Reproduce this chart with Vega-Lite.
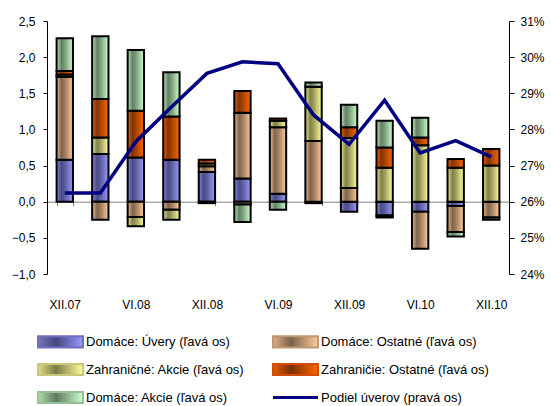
{
  "$schema": "https://vega.github.io/schema/vega-lite/v6.json",
  "width": 462,
  "height": 253,
  "autosize": {"type": "none"},
  "padding": {"left": 47, "top": 21, "right": 42, "bottom": 132},
  "background": "white",
  "config": {
    "view": {"stroke": null},
    "font": "Liberation Sans",
    "axis": {"labelFont": "Liberation Sans", "labelFontSize": 12, "labelColor": "#000", "grid": false},
    "legend": {"labelFont": "Liberation Sans", "labelFontSize": 13, "labelColor": "#000", "labelLimit": 300}
  },
  "datasets": {
    "bars": [
      {"date": "XII.07", "series": "Domáce: Úvery (ľavá os)", "value": 0.58},
      {"date": "XII.07", "series": "Domáce: Ostatné (ľavá os)", "value": 1.15},
      {"date": "XII.07", "series": "Zahraničné: Akcie (ľavá os)", "value": 0.03},
      {"date": "XII.07", "series": "Zahraničie: Ostatné (ľavá os)", "value": 0.05},
      {"date": "XII.07", "series": "Domáce:  Akcie (ľavá os)", "value": 0.45},
      {"date": "III.08", "series": "Domáce: Úvery (ľavá os)", "value": 0.66},
      {"date": "III.08", "series": "Domáce: Ostatné (ľavá os)", "value": -0.25},
      {"date": "III.08", "series": "Zahraničné: Akcie (ľavá os)", "value": 0.23},
      {"date": "III.08", "series": "Zahraničie: Ostatné (ľavá os)", "value": 0.53},
      {"date": "III.08", "series": "Domáce:  Akcie (ľavá os)", "value": 0.87},
      {"date": "VI.08", "series": "Domáce: Úvery (ľavá os)", "value": 0.61},
      {"date": "VI.08", "series": "Domáce: Ostatné (ľavá os)", "value": -0.21},
      {"date": "VI.08", "series": "Zahraničné: Akcie (ľavá os)", "value": -0.13},
      {"date": "VI.08", "series": "Zahraničie: Ostatné (ľavá os)", "value": 0.65},
      {"date": "VI.08", "series": "Domáce:  Akcie (ľavá os)", "value": 0.84},
      {"date": "IX.08", "series": "Domáce: Úvery (ľavá os)", "value": 0.58},
      {"date": "IX.08", "series": "Domáce: Ostatné (ľavá os)", "value": -0.11},
      {"date": "IX.08", "series": "Zahraničné: Akcie (ľavá os)", "value": -0.14},
      {"date": "IX.08", "series": "Zahraničie: Ostatné (ľavá os)", "value": 0.60},
      {"date": "IX.08", "series": "Domáce:  Akcie (ľavá os)", "value": 0.61},
      {"date": "XII.08", "series": "Domáce: Úvery (ľavá os)", "value": 0.41},
      {"date": "XII.08", "series": "Domáce: Ostatné (ľavá os)", "value": 0.08},
      {"date": "XII.08", "series": "Zahraničné: Akcie (ľavá os)", "value": 0.04},
      {"date": "XII.08", "series": "Zahraničie: Ostatné (ľavá os)", "value": 0.05},
      {"date": "XII.08", "series": "Domáce:  Akcie (ľavá os)", "value": -0.02},
      {"date": "III.09", "series": "Domáce: Úvery (ľavá os)", "value": 0.32},
      {"date": "III.09", "series": "Domáce: Ostatné (ľavá os)", "value": 0.91},
      {"date": "III.09", "series": "Zahraničné: Akcie (ľavá os)", "value": -0.04},
      {"date": "III.09", "series": "Zahraničie: Ostatné (ľavá os)", "value": 0.30},
      {"date": "III.09", "series": "Domáce:  Akcie (ľavá os)", "value": -0.24},
      {"date": "VI.09", "series": "Domáce: Úvery (ľavá os)", "value": 0.11},
      {"date": "VI.09", "series": "Domáce: Ostatné (ľavá os)", "value": 0.92},
      {"date": "VI.09", "series": "Zahraničné: Akcie (ľavá os)", "value": 0.09},
      {"date": "VI.09", "series": "Zahraničie: Ostatné (ľavá os)", "value": 0.03},
      {"date": "VI.09", "series": "Domáce:  Akcie (ľavá os)", "value": -0.11},
      {"date": "IX.09", "series": "Domáce: Úvery (ľavá os)", "value": -0.02},
      {"date": "IX.09", "series": "Domáce: Ostatné (ľavá os)", "value": 0.84},
      {"date": "IX.09", "series": "Zahraničné: Akcie (ľavá os)", "value": 0.75},
      {"date": "IX.09", "series": "Domáce:  Akcie (ľavá os)", "value": 0.06},
      {"date": "XII.09", "series": "Domáce: Úvery (ľavá os)", "value": -0.14},
      {"date": "XII.09", "series": "Domáce: Ostatné (ľavá os)", "value": 0.19},
      {"date": "XII.09", "series": "Zahraničné: Akcie (ľavá os)", "value": 0.69},
      {"date": "XII.09", "series": "Zahraničie: Ostatné (ľavá os)", "value": 0.15},
      {"date": "XII.09", "series": "Domáce:  Akcie (ľavá os)", "value": 0.31},
      {"date": "III.10", "series": "Domáce: Úvery (ľavá os)", "value": -0.19},
      {"date": "III.10", "series": "Domáce: Ostatné (ľavá os)", "value": -0.03},
      {"date": "III.10", "series": "Zahraničné: Akcie (ľavá os)", "value": 0.47},
      {"date": "III.10", "series": "Zahraničie: Ostatné (ľavá os)", "value": 0.28},
      {"date": "III.10", "series": "Domáce:  Akcie (ľavá os)", "value": 0.37},
      {"date": "VI.10", "series": "Domáce: Úvery (ľavá os)", "value": -0.14},
      {"date": "VI.10", "series": "Domáce: Ostatné (ľavá os)", "value": -0.51},
      {"date": "VI.10", "series": "Zahraničné: Akcie (ľavá os)", "value": 0.78},
      {"date": "VI.10", "series": "Zahraničie: Ostatné (ľavá os)", "value": 0.11},
      {"date": "VI.10", "series": "Domáce:  Akcie (ľavá os)", "value": 0.27},
      {"date": "IX.10", "series": "Domáce: Úvery (ľavá os)", "value": -0.06},
      {"date": "IX.10", "series": "Domáce: Ostatné (ľavá os)", "value": -0.36},
      {"date": "IX.10", "series": "Zahraničné: Akcie (ľavá os)", "value": 0.47},
      {"date": "IX.10", "series": "Zahraničie: Ostatné (ľavá os)", "value": 0.12},
      {"date": "IX.10", "series": "Domáce:  Akcie (ľavá os)", "value": -0.06},
      {"date": "XII.10", "series": "Domáce: Ostatné (ľavá os)", "value": -0.22},
      {"date": "XII.10", "series": "Zahraničné: Akcie (ľavá os)", "value": 0.50},
      {"date": "XII.10", "series": "Zahraničie: Ostatné (ľavá os)", "value": 0.23},
      {"date": "XII.10", "series": "Domáce:  Akcie (ľavá os)", "value": -0.03}
    ],
    "line": [
      {"date": "XII.07", "series": "Podiel úverov (pravá os)", "share": 26.24},
      {"date": "III.08", "series": "Podiel úverov (pravá os)", "share": 26.24},
      {"date": "VI.08", "series": "Podiel úverov (pravá os)", "share": 27.66},
      {"date": "IX.08", "series": "Podiel úverov (pravá os)", "share": 28.62},
      {"date": "XII.08", "series": "Podiel úverov (pravá os)", "share": 29.55},
      {"date": "III.09", "series": "Podiel úverov (pravá os)", "share": 29.87},
      {"date": "VI.09", "series": "Podiel úverov (pravá os)", "share": 29.82},
      {"date": "IX.09", "series": "Podiel úverov (pravá os)", "share": 28.4},
      {"date": "XII.09", "series": "Podiel úverov (pravá os)", "share": 27.59},
      {"date": "III.10", "series": "Podiel úverov (pravá os)", "share": 28.81},
      {"date": "VI.10", "series": "Podiel úverov (pravá os)", "share": 27.35},
      {"date": "IX.10", "series": "Podiel úverov (pravá os)", "share": 27.69},
      {"date": "XII.10", "series": "Podiel úverov (pravá os)", "share": 27.24}
    ]
  },
  "layer": [
    {
      "data": {"name": "bars"},
      "transform": [
        {"calculate": "indexof(['Domáce: Úvery (ľavá os)','Domáce: Ostatné (ľavá os)','Zahraničné: Akcie (ľavá os)','Zahraničie: Ostatné (ľavá os)','Domáce:  Akcie (ľavá os)'], datum.series)", "as": "ord"},
        {"stack": "value", "groupby": ["date"], "sort": [{"field": "ord", "order": "ascending"}], "as": ["y0", "y1"]}
      ],
      "encoding": {
        "x": {
          "field": "date", "type": "nominal",
          "scale": {"domain": ["XII.07","III.08","VI.08","IX.08","XII.08","III.09","VI.09","IX.09","XII.09","III.10","VI.10","IX.10","XII.10"], "paddingInner": 0.54, "paddingOuter": 0.27},
          "axis": {
            "orient": "bottom", "offset": -72.3, "title": null,
            "domainColor": "#808080", "domainWidth": 1,
            "tickColor": "#808080", "tickSize": 4, "tickBand": "extent",
            "labelPadding": 94, "labelAngle": 0, "labelOverlap": false,
            "labelExpr": "indexof(['XII.07','VI.08','XII.08','VI.09','XII.09','VI.10','XII.10'], datum.value) >= 0 ? datum.value : ''"
          }
        },
        "y": {
          "field": "y0", "type": "quantitative",
          "scale": {"domain": [-1, 2.5], "nice": false, "zero": false},
          "axis": {
            "orient": "left", "title": null, "values": [-1, -0.5, 0, 0.5, 1, 1.5, 2, 2.5],
            "domainColor": "#000", "tickColor": "#000", "tickSize": 4, "labelPadding": 8,
            "labelExpr": "replace(format(datum.value, '.1f'), '.', ',')"
          }
        },
        "y2": {"field": "y1"}
      },
      "layer": [
        {
          "transform": [{"filter": "datum.ord === 0"}],
          "mark": {"type": "bar", "stroke": "#000", "strokeWidth": 2,
            "fill": {"gradient": "linear", "x1": 0, "y1": 0, "x2": 1, "y2": 0, "stops": [{"offset": 0, "color": "#8585e0"}, {"offset": 0.3, "color": "#4a4a85"}, {"offset": 0.5, "color": "#5c5c9c"}, {"offset": 1, "color": "#9999ff"}]}}
        },
        {
          "transform": [{"filter": "datum.ord === 1"}],
          "mark": {"type": "bar", "stroke": "#000", "strokeWidth": 2,
            "fill": {"gradient": "linear", "x1": 0, "y1": 0, "x2": 1, "y2": 0, "stops": [{"offset": 0, "color": "#e8b88e"}, {"offset": 0.3, "color": "#80654e"}, {"offset": 0.5, "color": "#9c7a5e"}, {"offset": 1, "color": "#ffcc99"}]}}
        },
        {
          "transform": [{"filter": "datum.ord === 2"}],
          "mark": {"type": "bar", "stroke": "#000", "strokeWidth": 2,
            "fill": {"gradient": "linear", "x1": 0, "y1": 0, "x2": 1, "y2": 0, "stops": [{"offset": 0, "color": "#e8e88e"}, {"offset": 0.3, "color": "#80804c"}, {"offset": 0.5, "color": "#9c9c5e"}, {"offset": 1, "color": "#ffff99"}]}}
        },
        {
          "transform": [{"filter": "datum.ord === 3"}],
          "mark": {"type": "bar", "stroke": "#000", "strokeWidth": 2,
            "fill": {"gradient": "linear", "x1": 0, "y1": 0, "x2": 1, "y2": 0, "stops": [{"offset": 0, "color": "#ee5e08"}, {"offset": 0.3, "color": "#803300"}, {"offset": 0.5, "color": "#a34200"}, {"offset": 1, "color": "#ff6600"}]}}
        },
        {
          "transform": [{"filter": "datum.ord === 4"}],
          "mark": {"type": "bar", "stroke": "#000", "strokeWidth": 2,
            "fill": {"gradient": "linear", "x1": 0, "y1": 0, "x2": 1, "y2": 0, "stops": [{"offset": 0, "color": "#b8e8b8"}, {"offset": 0.3, "color": "#658065"}, {"offset": 0.5, "color": "#7a9c7a"}, {"offset": 1, "color": "#ccffcc"}]}}
        }
      ]
    },
    {
      "data": {"name": "line"},
      "mark": {"type": "line", "strokeWidth": 3.5},
      "encoding": {
        "x": {"field": "date", "type": "nominal"},
        "y": {
          "field": "share", "type": "quantitative",
          "scale": {"domain": [24, 31], "nice": false, "zero": false},
          "axis": {
            "orient": "right", "title": null, "values": [24, 25, 26, 27, 28, 29, 30, 31],
            "domainColor": "#000", "tickColor": "#000", "tickSize": 5, "labelPadding": 6,
            "labelExpr": "datum.value + '%'"
          }
        },
        "color": {
          "field": "series", "type": "nominal",
          "scale": {
            "domain": ["Domáce: Úvery (ľavá os)","Domáce: Ostatné (ľavá os)","Zahraničné: Akcie (ľavá os)","Zahraničie: Ostatné (ľavá os)","Domáce:  Akcie (ľavá os)","Podiel úverov (pravá os)"],
            "range": ["#6f6fc0", "#c09870", "#c8c878", "#d04c08", "#98c098", "#000080"]
          },
          "legend": {
            "orient": "none", "legendX": 7, "legendY": 314, "columns": 2, "direction": "horizontal", "title": null,
            "padding": 0, "symbolSize": 156, "labelOffset": 19, "rowPadding": 7, "columnPadding": 22, "labelLimit": 300,
            "symbolType": "M-3.6,-0.9L3.6,-0.9L3.6,0.9L-3.6,0.9Z",
            "encode": {
              "symbols": {
                "update": {
                  "shape": {"signal": "datum.value === 'Podiel úverov (pravá os)' ? 'M-3.6,0L3.6,0' : 'M-3.6,-0.9L3.6,-0.9L3.6,0.9L-3.6,0.9Z'"},
                  "fill": {"signal": "datum.value === 'Podiel úverov (pravá os)' ? 'transparent' : datum.value === 'Domáce: Úvery (ľavá os)' ? {gradient: 'linear', x1: 0, y1: 0, x2: 1, y2: 0, stops: [{offset: 0, color: '#7878b8'}, {offset: 0.4, color: '#45457e'}, {offset: 1, color: '#9999ff'}]} : datum.value === 'Domáce: Ostatné (ľavá os)' ? {gradient: 'linear', x1: 0, y1: 0, x2: 1, y2: 0, stops: [{offset: 0, color: '#e0b088'}, {offset: 0.4, color: '#7a604a'}, {offset: 1, color: '#ffcc99'}]} : datum.value === 'Zahraničné: Akcie (ľavá os)' ? {gradient: 'linear', x1: 0, y1: 0, x2: 1, y2: 0, stops: [{offset: 0, color: '#e0e088'}, {offset: 0.4, color: '#7a7a48'}, {offset: 1, color: '#ffff99'}]} : datum.value === 'Zahraničie: Ostatné (ľavá os)' ? {gradient: 'linear', x1: 0, y1: 0, x2: 1, y2: 0, stops: [{offset: 0, color: '#e85c08'}, {offset: 0.4, color: '#7a3000'}, {offset: 1, color: '#ff6600'}]} : {gradient: 'linear', x1: 0, y1: 0, x2: 1, y2: 0, stops: [{offset: 0, color: '#b0e0b0'}, {offset: 0.4, color: '#5f7a5f'}, {offset: 1, color: '#ccffcc'}]}"},
                  "stroke": {"signal": "datum.value === 'Podiel úverov (pravá os)' ? '#000080' : '#000000'"},
                  "strokeWidth": {"signal": "datum.value === 'Podiel úverov (pravá os)' ? 3 : 2"}
                }
              }
            }
          }
        }
      }
    }
  ],
  "resolve": {"scale": {"y": "independent"}}
}
